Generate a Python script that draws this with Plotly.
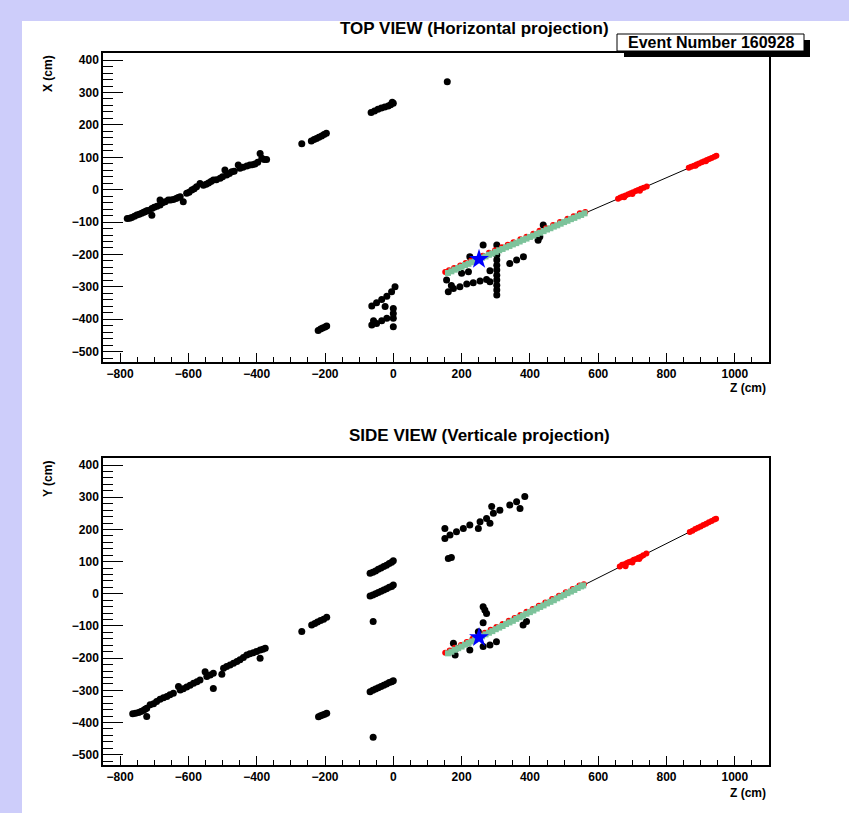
import plotly.graph_objects as go

W, H = 849, 813

# ---------------- TOP VIEW (Z vs X) ----------------
top_black_z = [-779, -772, -766, -758, -751, -744, -737, -731, -727, -722, -717, -707, -707, -700, -692,
               -683, -683, -676, -668, -659, -652, -644, -636, -630, -624, -615, -605, -598, -590, -583,
               -576, -566, -556, -548, -541, -534, -527, -518, -507, -500, -493, -488, -480, -473, -466,
               -454, -449, -440, -429, -420, -412, -405, -397, -390, -385, -378, -371,
               -268, -240, -232, -225, -218, -210, -203, -196,
               -65, -55, -45, -35, -25, -15, -8, 0, -3,
               158,
               -220, -213, -207, -200, -195,
               -63, -49, -34, -19, -5, 5, 0, 0, 0, 0, -63, -49, -34, -19, -24, -58,
               156, 161, 176, 195, 215, 234, 254, 273, 200, 220, 224, 263,
               303, 303, 303, 303, 303, 303, 303, 303, 303, 303, 303, 283,
               341, 361, 381, 424, 439, 429, 283, 170]
top_black_x = [-89, -88, -86, -82, -78, -76, -73, -70, -68, -65, -64, -79, -58, -54, -51,
               -47, -32, -40, -37, -32, -32, -30, -27, -24, -22, -37, -11, -8, -1, 3,
               9, 19, 14, 17, 21, 25, 30, 31, 35, 40, 61, 45, 50, 55, 57,
               76, 66, 69, 73, 76, 77, 79, 85, 112, 97, 93, 93,
               142, 150, 155, 158, 162, 166, 170, 174,
               238, 243, 248, 252, 255, 258, 262, 267, 270,
               333,
               -435, -430, -427, -424, -421,
               -359, -349, -339, -329, -315, -300, -367, -382, -397, -423, -418, -413, -405, -397, -361, -405,
               -279, -315, -305, -300, -291, -287, -282, -277, -258, -253, -207, -171,
               -171, -186, -202, -217, -233, -248, -264, -279, -295, -310, -325, -284,
               -228, -217, -207, -156, -109, -145, -250, -296]

top_green_z = [160, 170, 180, 190, 200, 210, 220, 230, 240, 250, 260, 270, 280, 290, 300, 310, 320,
               330, 340, 350, 360, 370, 380, 390, 400, 410, 420, 430, 440, 450, 460, 470, 480, 490,
               500, 510, 520, 530, 540, 550, 560]
top_green_x = [-257, -252, -247, -242, -238, -233, -229, -224, -220, -215, -210, -206, -201, -197, -192,
               -187, -183, -178, -174, -169, -165, -160, -155, -151, -146, -142, -137, -133, -128, -123,
               -119, -114, -110, -105, -100, -96, -91, -87, -82, -78, -73]

top_red_z = [152, 163, 178, 196, 212, 228, 262, 280, 298, 318, 335, 352, 372, 390, 410, 428, 447, 468,
             488, 510, 528, 546, 562,
             658, 665, 672, 680, 688, 695, 702, 710, 717, 725, 733, 742, 676, 700, 722,
             865, 872, 880, 888, 895, 903, 910, 918, 925, 932, 940, 946, 885, 915]
top_red_x = [-254, -249, -242, -234, -226, -219, -204, -195, -187, -178, -170, -162, -153, -145, -136,
             -127, -119, -109, -100, -90, -82, -73, -69,
             -28, -24, -21, -18, -14, -11, -8, -4, -1, 3, 6, 10, -23, -13, -3,
             68, 71, 74, 78, 81, 85, 88, 92, 95, 98, 102, 105, 74, 88]

top_line_z = [152, 946]
top_line_x = [-260, 104]

# ---------------- SIDE VIEW (Z vs Y) ----------------
side_black_z = [-763, -755, -746, -739, -732, -727, -722, -722, -712, -702, -693, -683, -673, -663, -654,
                -644, -629, -624, -615, -605, -595, -585, -575, -566, -551, -546, -536, -527, -527, -502,
                -497, -488, -478, -468, -458, -449, -439, -429, -420, -410, -390, -400, -390, -382, -375,
                -268, -239, -230, -222, -213, -204, -195,
                -68, -60, -52, -44, -36, -28, -20, -12, -5, 0,
                -68, -60, -52, -44, -36, -28, -20, -12, -5, 0,
                -59,
                -68, -60, -52, -44, -36, -28, -20, -12, -5, 0,
                -59,
                -219, -213, -207, -201, -195,
                151, 151, 166, 185, 205, 224, 249, 254, 273, 283, 288, 293, 312, 341, 361, 371, 385, 161, 170,
                263, 268, 273, 263, 249, 176, 185, 181, 224, 263, 283, 302, 390, 380]
side_black_y = [-373, -371, -369, -366, -363, -359, -356, -381, -345, -342, -335, -328, -323, -319, -314,
                -309, -288, -299, -295, -290, -284, -278, -273, -268, -242, -257, -252, -247, -294, -250,
                -231, -226, -221, -216, -210, -205, -198, -190, -186, -183, -200, -179, -175, -172, -169,
                -117, -97, -92, -88, -83, -79, -73,
                64, 67, 71, 76, 80, 85, 89, 94, 98, 103,
                -7, -4, 0, 4, 8, 12, 16, 20, 23, 27,
                -86,
                -304, -300, -296, -292, -288, -284, -280, -276, -273, -270,
                -446,
                -382, -379, -377, -374, -371,
                203, 172, 183, 193, 203, 214, 203, 224, 234, 219, 271, 250, 260, 276, 286, 265, 302, 110, 113,
                -40, -50, -61, -90, -118, -154, -169, -190, -175, -164, -159, -149, -86, -97]

side_green_z = [160, 170, 180, 190, 200, 210, 220, 230, 240, 250, 260, 270, 280, 290, 300, 310, 320,
                330, 340, 350, 360, 370, 380, 390, 400, 410, 420, 430, 440, 450, 460, 470, 480, 490,
                500, 510, 520, 530, 540, 550, 556]
side_green_y = [-185, -180, -174, -169, -164, -158, -153, -148, -142, -137, -132, -126, -121, -116, -110,
                -105, -100, -94, -89, -84, -78, -73, -68, -62, -57, -52, -46, -41, -36, -30, -25, -20,
                -14, -9, -4, 2, 7, 12, 18, 23, 26]

side_red_z = [152, 165, 180, 198, 215, 232, 268, 285, 302, 320, 338, 355, 372, 390, 408, 426, 445, 465,
              485, 505, 525, 545, 558,
              663, 670, 677, 684, 690, 697, 704, 711, 718, 725, 732, 741, 680, 700, 720,
              868, 876, 884, 892, 900, 908, 916, 924, 932, 940, 945]
side_red_y = [-183, -176, -168, -159, -150, -140, -121, -112, -103, -94, -84, -75, -66, -56, -47, -37,
              -27, -16, -6, 5, 15, 26, 30,
              85, 90, 92, 96, 99, 101, 106, 108, 112, 115, 120, 125, 86, 97, 108,
              192, 196, 201, 205, 209, 214, 218, 222, 226, 231, 233]

side_line_z = [152, 946]
side_line_y = [-189, 234]

# reconstructed interaction vertex
vertex_z = [251]
vertex_x = [-215]
vertex_y = [-136]

x_range = [-850, 1100]
y_range = [-532, 422]


def fx(p):
    return p / W


def fy(p):
    return 1 - p / H


fig = go.Figure()


def add_view(xa, ya, bz, bv, gz, gv, rz, rv, lz, lv, vz, vv):
    fig.add_trace(go.Scatter(x=bz, y=bv, mode="markers", xaxis=xa, yaxis=ya,
                             marker=dict(color="black", size=7, symbol="circle"), showlegend=False))
    fig.add_trace(go.Scatter(x=lz, y=lv, mode="lines", xaxis=xa, yaxis=ya,
                             line=dict(color="black", width=1), showlegend=False))
    fig.add_trace(go.Scatter(x=rz, y=rv, mode="markers", xaxis=xa, yaxis=ya,
                             marker=dict(color="red", size=6, symbol="circle"), showlegend=False))
    fig.add_trace(go.Scatter(x=gz, y=gv, mode="markers", xaxis=xa, yaxis=ya,
                             marker=dict(color="rgb(125,195,155)", size=6, symbol="square"),
                             showlegend=False))
    fig.add_trace(go.Scatter(x=vz, y=vv, mode="markers", xaxis=xa, yaxis=ya,
                             marker=dict(color="blue", size=15, symbol="star"), showlegend=False))


add_view("x", "y", top_black_z, top_black_x, top_green_z, top_green_x, top_red_z, top_red_x,
         top_line_z, top_line_x, vertex_z, vertex_x)
add_view("x2", "y2", side_black_z, side_black_y, side_green_z, side_green_y, side_red_z, side_red_y,
         side_line_z, side_line_y, vertex_z, vertex_y)

tickfont = dict(family="Liberation Sans", size=12, color="black", weight="bold")

xaxis_common = dict(range=x_range, tick0=0, dtick=200, ticks="inside", ticklen=9, tickwidth=1,
                    tickcolor="black", showline=True, linecolor="black", linewidth=1.5, mirror=True,
                    showgrid=False, zeroline=False, tickfont=tickfont,
                    minor=dict(dtick=50, tick0=0, ticks="inside", ticklen=5, tickcolor="black",
                               showgrid=False))
yaxis_common = dict(range=y_range, tick0=0, dtick=100, ticks="inside", ticklen=20, tickwidth=1,
                    tickcolor="black", showline=True, linecolor="black", linewidth=1.5, mirror=True,
                    showgrid=False, zeroline=False, tickfont=tickfont,
                    minor=dict(dtick=20, tick0=0, ticks="inside", ticklen=10, tickcolor="black",
                               showgrid=False))

top_frame = (103, 769, 53, 362)
side_frame = (103, 769, 458, 765)

fig.update_layout(
    width=W, height=H, autosize=False,
    margin=dict(l=0, r=0, t=0, b=0),
    paper_bgcolor="rgb(205,205,250)",
    plot_bgcolor="white",
    xaxis=dict(domain=[fx(top_frame[0]), fx(top_frame[1])], anchor="y", **xaxis_common),
    yaxis=dict(domain=[fy(top_frame[3]), fy(top_frame[2])], anchor="x", **yaxis_common),
    xaxis2=dict(domain=[fx(side_frame[0]), fx(side_frame[1])], anchor="y2", **xaxis_common),
    yaxis2=dict(domain=[fy(side_frame[3]), fy(side_frame[2])], anchor="x2", **yaxis_common),
)

shapes = [
    # white canvas pad
    dict(type="rect", xref="paper", yref="paper", x0=fx(22), x1=fx(849), y0=fy(813), y1=fy(21),
         fillcolor="white", line=dict(width=0), layer="below"),
    # event label box shadow and box
    dict(type="rect", xref="paper", yref="paper", x0=fx(624), x1=fx(810), y0=fy(57), y1=fy(40),
         fillcolor="black", line=dict(width=0), layer="above"),
    dict(type="rect", xref="paper", yref="paper", x0=fx(617), x1=fx(804), y0=fy(51), y1=fy(34),
         fillcolor="white", line=dict(color="black", width=1), layer="above"),
]
fig.update_layout(shapes=shapes)

title_font = dict(family="Liberation Sans", size=17, color="black", weight="bold")
label_font = dict(family="Liberation Sans", size=12, color="black", weight="bold")

annotations = [
    dict(text="TOP VIEW (Horizontal projection)", x=fx(474), y=fy(29), xref="paper", yref="paper",
         showarrow=False, font=title_font, xanchor="center", yanchor="middle"),
    dict(text="SIDE VIEW (Verticale projection)", x=fx(479), y=fy(435), xref="paper", yref="paper",
         showarrow=False, font=title_font, xanchor="center", yanchor="middle"),
    dict(text="Event Number 160928", x=fx(711), y=fy(43), xref="paper", yref="paper",
         showarrow=False, font=dict(family="Liberation Sans", size=16, color="black", weight="bold"),
         xanchor="center", yanchor="middle"),
    dict(text="X (cm)", x=fx(48), y=fy(74), xref="paper", yref="paper", textangle=-90,
         showarrow=False, font=label_font, xanchor="center", yanchor="middle"),
    dict(text="Y (cm)", x=fx(48), y=fy(479), xref="paper", yref="paper", textangle=-90,
         showarrow=False, font=label_font, xanchor="center", yanchor="middle"),
    dict(text="Z (cm)", x=fx(768), y=fy(388), xref="paper", yref="paper",
         showarrow=False, font=label_font, xanchor="right", yanchor="middle"),
    dict(text="Z (cm)", x=fx(768), y=fy(793), xref="paper", yref="paper",
         showarrow=False, font=label_font, xanchor="right", yanchor="middle"),
]
fig.update_layout(annotations=annotations)

fig.write_html("out.html")
